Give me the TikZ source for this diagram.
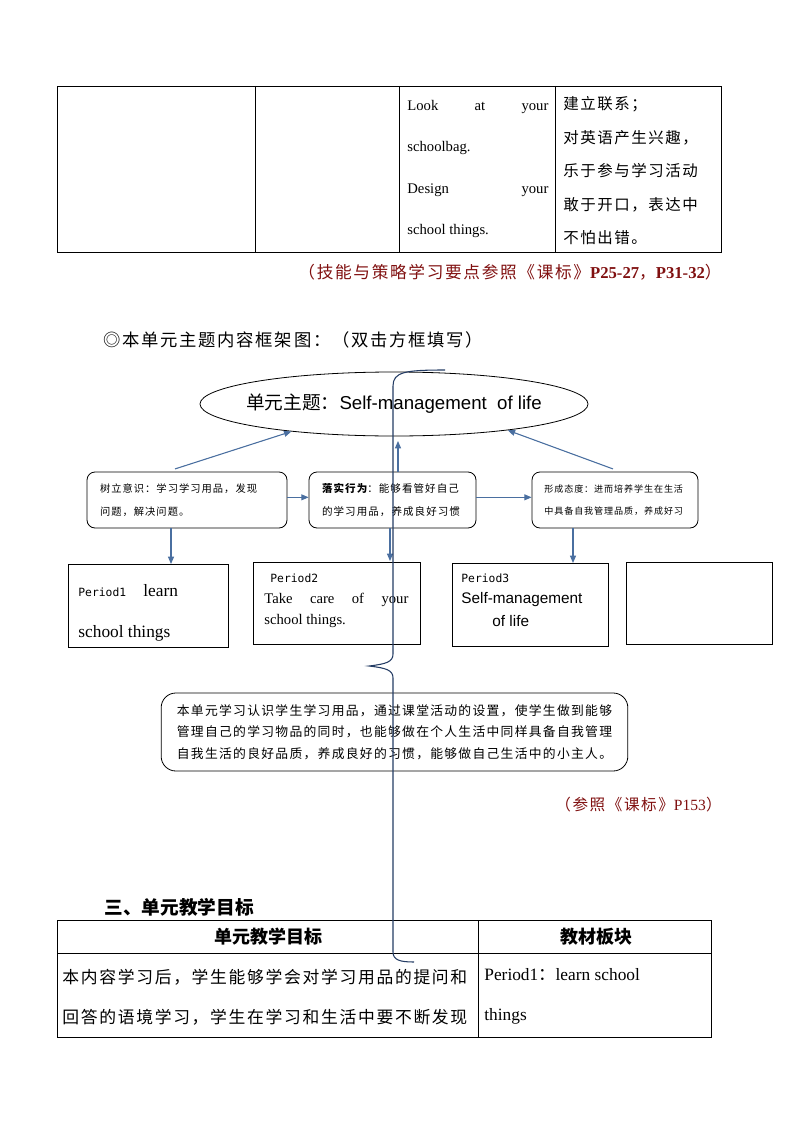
\documentclass[tikz,border=0pt]{standalone}
\usepackage{fontspec}
\setmainfont{Liberation Serif}
\setsansfont{Liberation Sans}
\setmonofont{DejaVu Sans Mono}
\newfontfamily\cjk{Noto Sans CJK SC}
\newfontfamily\cjksp[LetterSpace=10]{Noto Sans CJK SC}
\usetikzlibrary{shapes.geometric,arrows.meta}
\definecolor{arrowblue}{RGB}{74,111,160}
\definecolor{bracenavy}{RGB}{36,60,100}
\definecolor{notered}{RGB}{128,16,16}

\begin{document}
\begin{tikzpicture}[x=0.75pt,y=-0.75pt,line width=0.6pt,
	>={Triangle[length=5.5pt,width=4.5pt]},
	txt/.style={inner sep=0pt,anchor=west},
	fbox/.style={draw,rounded corners=6pt,minimum height=42pt,inner sep=0pt,align=left},
	pbox/.style={draw,minimum height=62pt,inner sep=0pt},
	link/.style={->,draw=arrowblue,fill=arrowblue,line width=0.8pt}]
	\useasboundingbox (0,0) rectangle (794,1123);

	\draw (57,86) rectangle (721,252);
	\draw (255,86) -- (255,252) (399,86) -- (399,252) (555,86) -- (555,252);
	\node[txt,align=left,font=\fontsize{11}{31}\selectfont] (tasks) at (407,169)
		{\makebox[105.75pt][s]{Look\hfill at\hfill your}\\schoolbag.\\\makebox[105.75pt][s]{Design\hfill your}\\school things.};
	\node[txt,align=left,font=\cjksp\fontsize{11.6}{25.1}\selectfont] (aims) at (563,171)
		{建立联系；\\对英语产生兴趣，\\乐于参与学习活动\\敢于开口，表达中\\不怕出错。};
	\node[anchor=east,inner sep=0pt,text=notered,font=\cjksp\fontsize{12.5}{14}\selectfont] (note1) at (722,272)
		{（技能与策略学习要点参照《课标》{\rmfamily\bfseries P25-27}，{\rmfamily\bfseries P31-32}）};

	\node[txt,font=\cjksp\fontsize{13}{15}\selectfont] (heading) at (103,340) {◎本单元主题内容框架图：（双击方框填写）};

	\node[draw,ellipse,minimum width=291pt,minimum height=48pt,inner xsep=-8.5pt,inner ysep=0pt,font=\sffamily\fontsize{14}{16}\selectfont] (theme) at (394,404)
		{{\cjk 单元主题：}Self-management\ \ of life};

	\node[fbox,minimum width=150pt,text width=130.5pt,font=\cjksp\fontsize{7.7}{17}\selectfont] (aware) at (187,500)
		{树立意识：学习学习用品，发现\\问题，解决问题。};
	\node[fbox,minimum width=125.25pt,text width=105.75pt,font=\cjksp\fontsize{7.9}{17}\selectfont] (act) at (392.5,500)
		{{\bfseries 落实行为}：能够看管好自己\\的学习用品，养成良好习惯};
	\node[fbox,minimum width=124.5pt,text width=106pt,font=\cjksp\fontsize{6.8}{17}\selectfont] (attitude) at (615,500)
		{形成态度：进而培养学生在生活\\中具备自我管理品质，养成好习};

	\draw[link] ([xshift=-9pt,yshift=2pt]aware.north) -- (theme.195);
	\draw[link] ([xshift=-1.5pt,yshift=2pt]attitude.north) -- (theme.347);
	\coordinate (actup) at (398,441);
	\draw[link] (act.north -| actup) -- (actup);
	\draw[link] ([yshift=2pt]aware.east) -- ([yshift=2pt]act.west);
	\draw[link] ([yshift=2pt]act.east) -- ([yshift=2pt]attitude.west);

	\node[pbox,minimum width=120pt] (p1) at (148,606) {};
	\node[pbox,minimum width=125.25pt] (p2) at (336.5,603.5) {};
	\node[pbox,minimum width=117pt] (p3) at (530,605) {};
	\node[pbox,minimum width=109.5pt] (p4) at (699,603.5) {};

	\coordinate (d1) at (171,564);
	\coordinate (d2) at (390,561);
	\coordinate (d3) at (573,563);
	\draw[link] (aware.south -| d1) -- (d1);
	\draw[link] (act.south -| d2) -- (d2);
	\draw[link] (attitude.south -| d3) -- (d3);

	\node[txt,font=\ttfamily\fontsize{8.5}{10}\selectfont] (p1a) at (78,592) {Period1};
	\node[txt,font=\fontsize{13}{15}\selectfont] (p1b) at (143,591) {learn};
	\node[txt,font=\fontsize{13}{15}\selectfont] (p1c) at (78,633) {school things};
	\node[txt,font=\ttfamily\fontsize{8.5}{10}\selectfont] (p2a) at (270,578) {Period2};
	\node[txt,font=\fontsize{11}{13}\selectfont] (p2b) at (264,600) {\makebox[108pt][s]{Take\hfill care\hfill of\hfill your}};
	\node[txt,font=\fontsize{11}{13}\selectfont] (p2c) at (264,621) {school things.};
	\node[txt,font=\ttfamily\fontsize{8.5}{10}\selectfont] (p3a) at (461,578) {Period3};
	\node[txt,font=\sffamily\fontsize{11.5}{13}\selectfont] (p3b) at (461,600) {Self-management};
	\node[txt,font=\sffamily\fontsize{11.5}{13}\selectfont] (p3c) at (492,621) {of life};

	\node[draw,rounded corners=11pt,minimum width=350pt,minimum height=58.5pt,inner sep=0pt,align=left,font=\cjksp\fontsize{9.6}{16}\selectfont] (summary) at (394.5,732)
		{本单元学习认识学生学习用品，通过课堂活动的设置，使学生做到能够\\管理自己的学习物品的同时，也能够做在个人生活中同样具备自我管理\\自我生活的良好品质，养成良好的习惯，能够做自己生活中的小主人。};
	\node[anchor=east,inner sep=0pt,text=notered,font=\cjksp\fontsize{11.7}{14}\selectfont] (note2) at (722,805)
		{（参照《课标》{\rmfamily P153}）};

	\node[txt,font=\cjk\bfseries\fontsize{14}{16}\selectfont] (section) at (104,907) {三、单元教学目标};
	\draw (57,920) rectangle (711,1037);
	\draw (57,953) -- (711,953) (478,920) -- (478,1037);
	\node[font=\cjk\bfseries\fontsize{13.5}{16}\selectfont] (hgoal) at (268,937) {单元教学目标};
	\node[font=\cjk\bfseries\fontsize{13.5}{16}\selectfont] (hpart) at (596,937) {教材板块};
	\node[txt,align=left,font=\cjksp\fontsize{12.6}{30}\selectfont] (goaltext) at (62,997)
		{本内容学习后，学生能够学会对学习用品的提问和\\回答的语境学习，学生在学习和生活中要不断发现};
	\node[txt,align=left,font=\fontsize{13}{30}\selectfont] (parttext) at (484,996)
		{Period1{\cjk ：}learn school\\things};

	\draw[bracenavy,line width=0.8pt] (445,370) .. controls (405,370) and (393,372) .. (393,386) -- (393,654)
		.. controls (393,662) and (386,664) .. (369,666) .. controls (386,668) and (393,670) .. (393,678)
		-- (393,952) .. controls (393,960) and (400,962) .. (414,962);
\end{tikzpicture}
\end{document}
